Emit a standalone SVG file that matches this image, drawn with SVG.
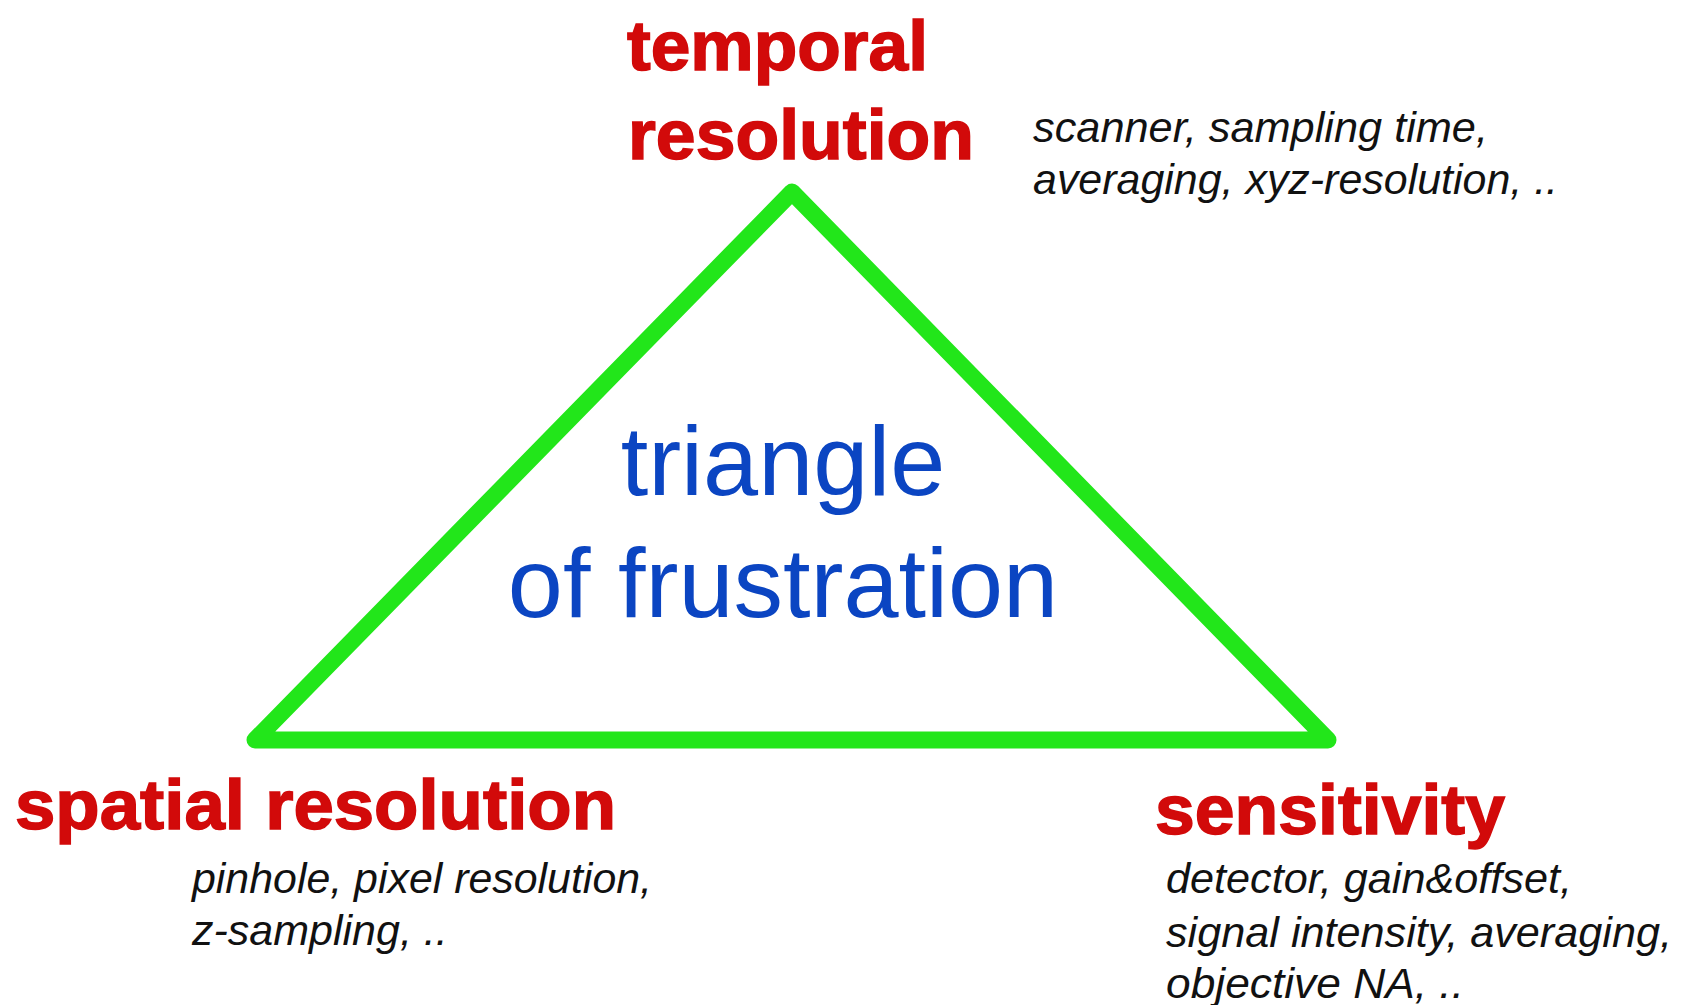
<svg xmlns="http://www.w3.org/2000/svg" width="1688" height="1005" viewBox="0 0 1688 1005">
<style>
.head{font-family:"Liberation Sans",Arial,sans-serif;font-weight:bold;font-size:71px;fill:#d20a0a;stroke:#d20a0a;stroke-width:1.5}
.note{font-family:"Liberation Sans",Arial,sans-serif;font-style:italic;font-size:43px;fill:#111}
.center{font-family:"Liberation Sans",Arial,sans-serif;font-size:99px;fill:#0b45c2;text-anchor:middle}
.edge{fill:none;stroke:#22e61a;stroke-width:17;stroke-linejoin:round;stroke-linecap:round}
</style>
<rect width="1688" height="1005" fill="#ffffff"/>
<g id="connectors">
<polygon class="edge" points="792,192 255,740 1328,740"/>
</g>
<g id="center-label">
<text class="center" x="783" y="495">triangle</text>
<text class="center" x="783" y="617">of frustration</text>
</g>
<g id="node-temporal">
<text class="head" x="627" y="70" textLength="301" lengthAdjust="spacingAndGlyphs">temporal</text>
<text class="head" x="628" y="159" textLength="346" lengthAdjust="spacingAndGlyphs">resolution</text>
<text class="note" x="1033" y="142" textLength="455" lengthAdjust="spacingAndGlyphs">scanner, sampling time,</text>
<text class="note" x="1033" y="194" textLength="525" lengthAdjust="spacingAndGlyphs">averaging, xyz-resolution, ..</text>
</g>
<g id="node-spatial">
<text class="head" x="15" y="829" textLength="601" lengthAdjust="spacingAndGlyphs">spatial resolution</text>
<text class="note" x="192" y="893" textLength="460" lengthAdjust="spacingAndGlyphs">pinhole, pixel resolution,</text>
<text class="note" x="192" y="945">z-sampling, ..</text>
</g>
<g id="node-sensitivity">
<text class="head" x="1155" y="834" textLength="350" lengthAdjust="spacingAndGlyphs">sensitivity</text>
<text class="note" x="1166" y="893" textLength="406" lengthAdjust="spacingAndGlyphs">detector, gain&amp;offset,</text>
<text class="note" x="1166" y="947" textLength="506" lengthAdjust="spacingAndGlyphs">signal intensity, averaging,</text>
<text class="note" x="1166" y="998" textLength="298" lengthAdjust="spacingAndGlyphs">objective NA,  ..</text>
</g>
</svg>
